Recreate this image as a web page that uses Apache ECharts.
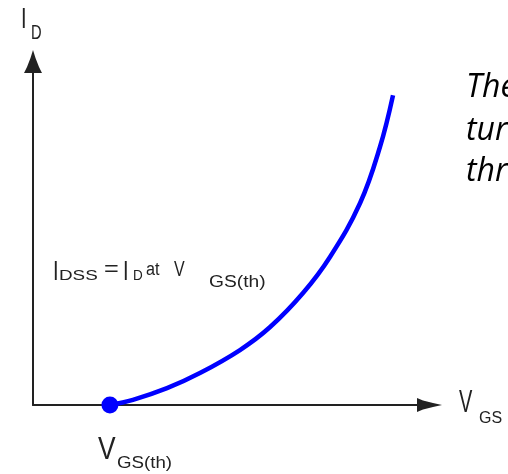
<!DOCTYPE html>
<html>
<head>
<meta charset="utf-8">
<script src="https://cdn.jsdelivr.net/npm/echarts@6/dist/echarts.min.js"></script>
<style>
  html, body { margin: 0; padding: 0; background: #fff; }
  #chart { width: 508px; height: 474px; }
</style>
</head>
<body>
<div id="chart"></div>
<script>
// Transfer characteristic of an enhancement MOSFET (arbitrary units)
const vgs = [1.94, 2.52, 3.38, 4.21, 5.22, 5.98, 6.81, 7.49, 8.25, 8.75, 9.08];
const id  = [0.00, 0.15, 0.49, 0.93, 1.60, 2.27, 3.26, 4.31, 5.88, 7.51, 9.02];
// Threshold point V_GS(th)
const threshold = [1.94, 0.0];

const axisMax = 10;
const ink = '#222';
const sans = '"Liberation Sans", Arial, sans-serif';

// Axis arrow heads (flared tips)
const arrowY = 'path://M9,0 L11.5,8 L15,17 L18,23 L0,23 L3,17 L6.5,8 Z';
const arrowX = 'path://M7,0 L9,9 L11.5,19 L14,25 L0,25 L2.5,19 L5,9 Z';

// Label pieces: [text, x, y, fontSize, scaleX, scaleY]
const labelPieces = [
  ['I', 21, 19.5, 20, 1, 1.47],
  ['D', 31, 34, 14, 1.05, 1.4],
  ['V', 459, 404, 20, 1, 1.54],
  ['GS', 479, 419, 16, 1, 1],
  ['V', 98, 451, 22, 1.2, 1.4],
  ['GS(th)', 117, 463.5, 17, 1.1, 1],
  ['I', 53, 272, 20, 1, 1.4],
  ['DSS', 59, 276, 14.5, 1.3, 1.05],
  ['=', 104, 270, 22, 1.15, 1],
  ['I', 123, 272, 20, 1, 1.4],
  ['D', 133, 276.5, 13.5, 1, 1.05],
  ['at', 146, 270.5, 18, 0.9, 1],
  ['V', 174, 269.5, 20, 0.8, 1.1],
  ['GS(th)', 209, 283, 16, 1.2, 1]
];

// Italic note on the right edge
const noteLines = ['The', 'tur', 'thr'];
const noteY = [88, 131, 172];

const graphics = labelPieces.map(function (p) {
  return {
    type: 'text',
    x: p[1], y: p[2],
    scaleX: p[4], scaleY: p[5],
    silent: true,
    style: {
      text: p[0], x: 0, y: 0,
      fill: ink,
      font: p[3] + 'px ' + sans,
      textAlign: 'left', textVerticalAlign: 'middle',
      align: 'left', verticalAlign: 'middle'
    }
  };
}).concat(noteLines.map(function (t, i) {
  return {
    type: 'text',
    x: 466, y: noteY[i],
    silent: true,
    style: {
      text: t, x: 0, y: 0,
      fill: '#000',
      font: 'italic 32px "Open Sans", sans-serif',
      textAlign: 'left', textVerticalAlign: 'middle',
      align: 'left', verticalAlign: 'middle'
    }
  };
}));

const chart = echarts.init(document.getElementById('chart'), null, { renderer: 'canvas' });
chart.setOption({
  animation: false,
  backgroundColor: '#fff',
  grid: { left: 33, right: 78.5, top: 61.5, bottom: 69 },
  xAxis: {
    type: 'value', min: 0, max: axisMax,
    axisLine: { show: true, lineStyle: { color: ink, width: 2 }, symbol: ['none', arrowX], symbolSize: [14, 25] },
    axisTick: { show: false }, axisLabel: { show: false }, splitLine: { show: false }
  },
  yAxis: {
    type: 'value', min: 0, max: axisMax,
    axisLine: { show: true, lineStyle: { color: ink, width: 2 }, symbol: ['none', arrowY], symbolSize: [18, 23] },
    axisTick: { show: false }, axisLabel: { show: false }, splitLine: { show: false }
  },
  series: [
    {
      type: 'line',
      data: vgs.map(function (v, i) { return [v, id[i]]; }),
      smooth: 0.4,
      showSymbol: false,
      lineStyle: { color: '#0000ff', width: 4.5 },
      z: 3
    },
    {
      type: 'scatter',
      data: [threshold],
      symbolSize: 17,
      itemStyle: { color: '#0000ff', opacity: 1 },
      z: 4
    }
  ],
  graphic: graphics
});
</script>
</body>
</html>
